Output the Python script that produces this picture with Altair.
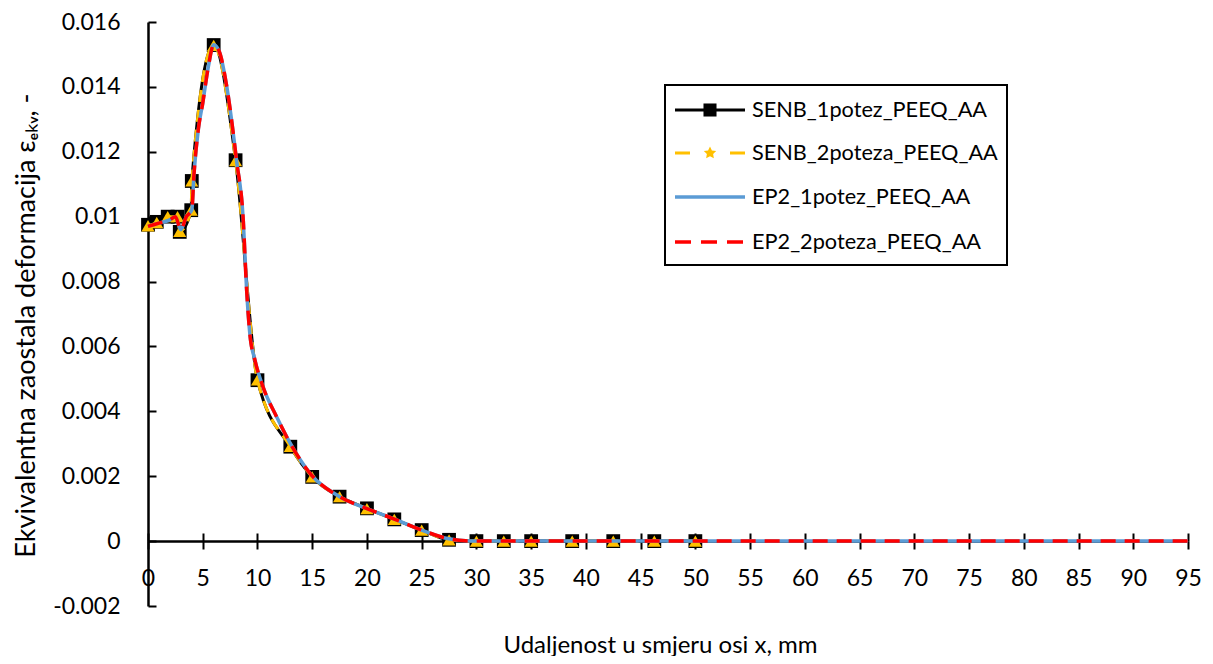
import altair as alt
import pandas as pd

# ---------------- data ----------------
series_names = ["SENB_1potez_PEEQ_AA", "SENB_2poteza_PEEQ_AA",
                "EP2_1potez_PEEQ_AA", "EP2_2poteza_PEEQ_AA"]
series_colors = ["#000000", "#FFC000", "#5B9BD5", "#FF0000"]

senb1_x = [0, 0.8, 1.8, 2.7, 2.9, 3.95, 4.0, 6, 8, 10, 13, 15, 17.5, 20,
           22.5, 25, 27.5, 30, 32.5, 35, 38.75, 42.5, 46.25, 50]
senb1_y = [0.00975, 0.00984, 0.0100, 0.0100, 0.00953, 0.0102, 0.0111,
           0.01529, 0.01174, 0.00496, 0.00291, 0.00198, 0.00137, 0.00101,
           0.00067, 0.00034, 0.00004, 0.0, 0.0, 0.0, 0.0, 0.0, 0.0, 0.0]

senb2_x = [0, 0.8, 1.8, 2.7, 2.9, 3.95, 4.0, 6, 8, 10, 13, 15, 17.5, 20,
           22.5, 25, 27.5, 30, 32.5, 35, 38.75, 42.5, 46.25, 50]
senb2_y = [0.00972, 0.00982, 0.0100, 0.0100, 0.00955, 0.0102, 0.0111,
           0.01528, 0.01173, 0.00497, 0.00292, 0.00198, 0.00137, 0.00100,
           0.00067, 0.00034, 0.00004, 0.0, 0.0, 0.0, 0.0, 0.0, 0.0, 0.0]

ep2a_x = [0, 1, 2, 2.5, 3, 3.5, 4, 4.2, 4.6, 5, 5.5, 6, 6.5, 7.2, 8.1, 8.7,
          9.0, 9.3, 9.77, 10.5, 11.75, 13, 14.8, 17.5, 20, 22.5, 25, 27.5,
          29, 30, 35, 40, 50, 60, 70, 80, 90, 95]
ep2a_y = [0.0097, 0.0098, 0.0099, 0.0100, 0.0096, 0.0100, 0.0102, 0.0113,
          0.0127, 0.0135, 0.0146, 0.0153, 0.0151, 0.0140, 0.0117, 0.0099,
          0.0078, 0.0064, 0.00558, 0.00476, 0.00383, 0.00301, 0.00209,
          0.00137, 0.00100, 0.00068, 0.00034, 0.00007, 0.00001, 0.0, 0.0,
          0.0, 0.0, 0.0, 0.0, 0.0, 0.0, 0.0]

ep2b_x = [0, 1, 2, 2.5, 3, 3.5, 4, 4.2, 4.6, 5, 5.5, 6, 6.5, 7.2, 8.1, 8.7,
          9.0, 9.3, 9.77, 10.5, 11.75, 13, 14.8, 17.5, 20, 22.5, 25, 27.5,
          29, 30, 35, 40, 50, 60, 70, 80, 90, 95]
ep2b_y = [0.0097, 0.0098, 0.0099, 0.0100, 0.0096, 0.0100, 0.0102, 0.0113,
          0.0127, 0.0135, 0.0146, 0.0153, 0.0151, 0.0140, 0.0117, 0.0099,
          0.0078, 0.0064, 0.00558, 0.00476, 0.00383, 0.00301, 0.00209,
          0.00137, 0.00100, 0.00068, 0.00034, 0.00007, 0.00001, 0.0, 0.0,
          0.0, 0.0, 0.0, 0.0, 0.0, 0.0, 0.0]

x_ticks = list(range(0, 100, 5))
y_ticks = [-0.002, 0, 0.002, 0.004, 0.006, 0.008, 0.010, 0.012, 0.014, 0.016]

x_title = "Udaljenost u smjeru osi x, mm"
y_title = "Ekvivalentna zaostala deformacija \u03b5\u2091\u2096\u1d65, -"


def frame(xs, ys):
    return pd.DataFrame({"x": xs, "y": ys, "i": list(range(len(xs)))})


df_s1 = frame(senb1_x, senb1_y)
df_s2 = frame(senb2_x, senb2_y)
df_e1 = frame(ep2a_x, ep2a_y)
df_e2 = frame(ep2b_x, ep2b_y)

FONT = "Lato"
W, H = 1040, 584

xs = alt.Scale(domain=[0, 95], nice=False, zero=False)
ys = alt.Scale(domain=[-0.002, 0.016], nice=False, zero=False)

x_axis = alt.Axis(orient="bottom", offset=-65, values=x_ticks, grid=False,
                  domainColor="black", domainWidth=2.5, tickColor="black",
                  tickWidth=2, tickSize=8, labelFont=FONT, labelFontSize=23,
                  labelColor="black", labelPadding=18, labelFlush=False,
                  labelOverlap=False, title=x_title, titleFont=FONT,
                  titleFontSize=24, titleFontWeight="normal",
                  titleColor="black", titleX=512, titleY=111,
                  titleBaseline="alphabetic", titleAnchor="middle")
y_axis = alt.Axis(orient="left", values=y_ticks, grid=False,
                  domainColor="black", domainWidth=2.5, ticks=False,
                  tickSize=0, labelFont=FONT, labelFontSize=23,
                  labelColor="black", labelPadding=28, labelFlush=False,
                  labelOverlap=False,
                  labelExpr="replace(format(datum.value, '~g'), '\u2212', '-')",
                  title=y_title, titleFont=FONT, titleFontSize=27,
                  titleFontWeight="normal", titleColor="black",
                  titleAngle=270, titleX=-122, titleY=303,
                  titleBaseline="middle", titleAlign="center")

X = alt.X("x:Q", scale=xs, axis=x_axis)
Y = alt.Y("y:Q", scale=ys, axis=y_axis)
O = alt.Order("i:Q")

line_s1 = alt.Chart(df_s1).mark_line(color=series_colors[0], strokeWidth=3,
                                     interpolate="monotone").encode(x=X, y=Y, order=O)
pts_s1 = alt.Chart(df_s1).mark_point(shape="square", filled=True, size=190, opacity=1,
                                     color=series_colors[0]).encode(x=X, y=Y)
line_s2 = alt.Chart(df_s2).mark_line(color=series_colors[1], strokeWidth=3,
                                     strokeDash=[12, 8],
                                     interpolate="monotone").encode(x=X, y=Y, order=O)
pts_s2 = alt.Chart(df_s2).mark_point(shape="triangle-up", filled=True, size=170, opacity=1,
                                     color=series_colors[1]).encode(x=X, y=Y)
line_e1 = alt.Chart(df_e1).mark_line(color=series_colors[2], strokeWidth=3.5,
                                     interpolate="monotone").encode(x=X, y=Y, order=O)
line_e2 = alt.Chart(df_e2).mark_line(color=series_colors[3], strokeWidth=3.5,
                                     strokeDash=[15, 9],
                                     interpolate="monotone").encode(x=X, y=Y, order=O)

# ---------------- manual legend ----------------
one = pd.DataFrame({"k": [0]})
legend_layers = [
    alt.Chart(one).mark_rect(fill="white", stroke="black", strokeWidth=2).encode(
        x=alt.value(517), x2=alt.value(859), y=alt.value(63), y2=alt.value(243))
]
rows = [88, 131, 175, 220]
dashes = [None, [15, 40], None, [16, 10]]
widths = [3, 3, 3.5, 3.5]
markers = ["square", "M0,-1L0.29,-0.4L0.95,-0.31L0.48,0.15L0.59,0.81L0,0.5L-0.59,0.81L-0.48,0.15L-0.95,-0.31L-0.29,-0.4Z", None, None]
for name, col, ry, dsh, wd, mk in zip(series_names, series_colors, rows, dashes, widths, markers):
    rule_kw = dict(color=col, strokeWidth=wd)
    if dsh is not None:
        rule_kw["strokeDash"] = dsh
    legend_layers.append(alt.Chart(one).mark_rule(**rule_kw).encode(
        x=alt.value(527), x2=alt.value(597), y=alt.value(ry)))
    if mk is not None:
        legend_layers.append(alt.Chart(one).mark_point(shape=mk, filled=True, size=170,
                                                       opacity=1, color=col).encode(
            x=alt.value(562), y=alt.value(ry)))
    legend_layers.append(alt.Chart(one).mark_text(align="left", baseline="middle", font=FONT,
                                                  fontSize=21.7, color="black").encode(
        x=alt.value(604), y=alt.value(ry), text=alt.value(name)))

main = alt.layer(line_s1, pts_s1, line_s2, pts_s2, line_e1, line_e2, *legend_layers)

# secondary axes give the inward half of the x ticks and the inward y ticks
axis_layer = alt.Chart(df_e1).mark_point(opacity=0).encode(
    x=alt.X("x:Q", scale=xs, axis=alt.Axis(orient="top", offset=-519, values=x_ticks,
                                            labels=False, domain=False, grid=False,
                                            tickSize=8, tickWidth=2, tickColor="black",
                                            title=None)),
    y=alt.Y("y:Q", scale=ys, axis=alt.Axis(orient="right", offset=-W, values=y_ticks,
                                            labels=False, domain=False, grid=False,
                                            tickSize=8, tickWidth=2, tickColor="black",
                                            title=None)),
)

chart = alt.layer(main, axis_layer).resolve_axis(x="independent", y="independent").properties(
    width=W, height=H,
    autosize=alt.AutoSizeParams(type="none"),
    padding={"left": 140, "top": 14, "right": 17, "bottom": 50},
    background="white",
).configure_view(stroke=None)

chart.save("out.html", embed_options={"renderer": "svg", "actions": False})
